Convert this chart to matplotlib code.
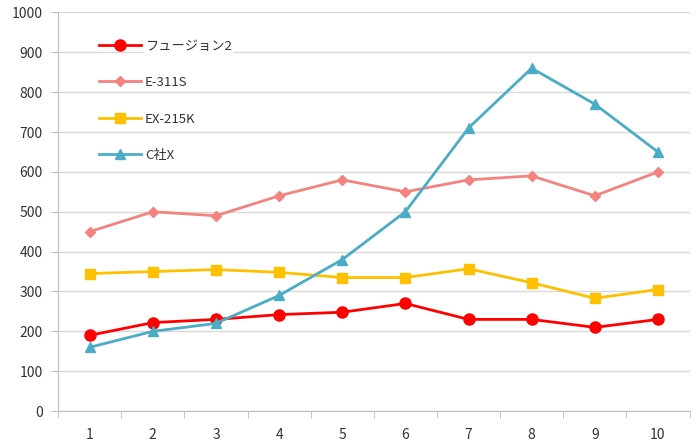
import matplotlib
matplotlib.use("Agg")
import matplotlib.pyplot as plt
from matplotlib.ticker import FixedLocator

plt.rcParams["font.family"] = ["Noto Sans CJK JP", "DejaVu Sans"]

# data
categories = [1, 2, 3, 4, 5, 6, 7, 8, 9, 10]
fusion2 = [190, 222, 230, 242, 248, 270, 230, 230, 210, 230]
e311s = [450, 500, 490, 540, 580, 550, 580, 590, 540, 600]
ex215k = [345, 350, 355, 348, 335, 335, 357, 322, 283, 305]
c_x = [160, 200, 220, 290, 380, 500, 710, 860, 770, 650]

series = [
    ("フュージョン2", fusion2, "#FF0000", "o", 8),
    ("E-311S", e311s, "#F4827E", "D", 5),
    ("EX-215K", ex215k, "#FFC000", "s", 7),
    ("C社X", c_x, "#4BACC6", "^", 7),
]

fig = plt.figure(figsize=(7, 4.43), dpi=100)
ax = fig.add_axes([0.083, 0.072, 0.902, 0.9])

for name, vals, color, marker, ms in series:
    ax.plot(categories, vals, color=color, marker=marker, markersize=ms,
            linewidth=2.0, label=name)

ax.set_xlim(0.5, 10.5)
ax.set_ylim(0, 1000)
ax.set_yticks(range(0, 1001, 100))
ax.set_xticks(categories)
ax.xaxis.set_minor_locator(FixedLocator([x + 0.5 for x in range(0, 11)]))
ax.tick_params(axis="x", which="major", length=0, pad=12, labelsize=10, labelcolor="#333333")
ax.tick_params(axis="x", which="minor", length=5, color="#BFBFBF")
ax.tick_params(axis="y", length=5, color="#BFBFBF", labelsize=10, labelcolor="#333333", pad=6)

ax.grid(axis="y", color="#D9D9D9", linewidth=1)
ax.set_axisbelow(True)
for side in ["top", "right"]:
    ax.spines[side].set_visible(False)
for side in ["left", "bottom"]:
    ax.spines[side].set_color("#BFBFBF")

leg = ax.legend(loc="upper left", bbox_to_anchor=(0.05, 0.955), frameon=False,
                handlelength=3.2, labelspacing=1.78, fontsize=9.5,
                borderpad=0.2, handletextpad=0.3)
for txt in leg.get_texts():
    txt.set_color("#333333")
    txt.set_bbox(dict(facecolor="white", edgecolor="none", pad=1))

plt.savefig("out.png", dpi=100)
plt.close()
